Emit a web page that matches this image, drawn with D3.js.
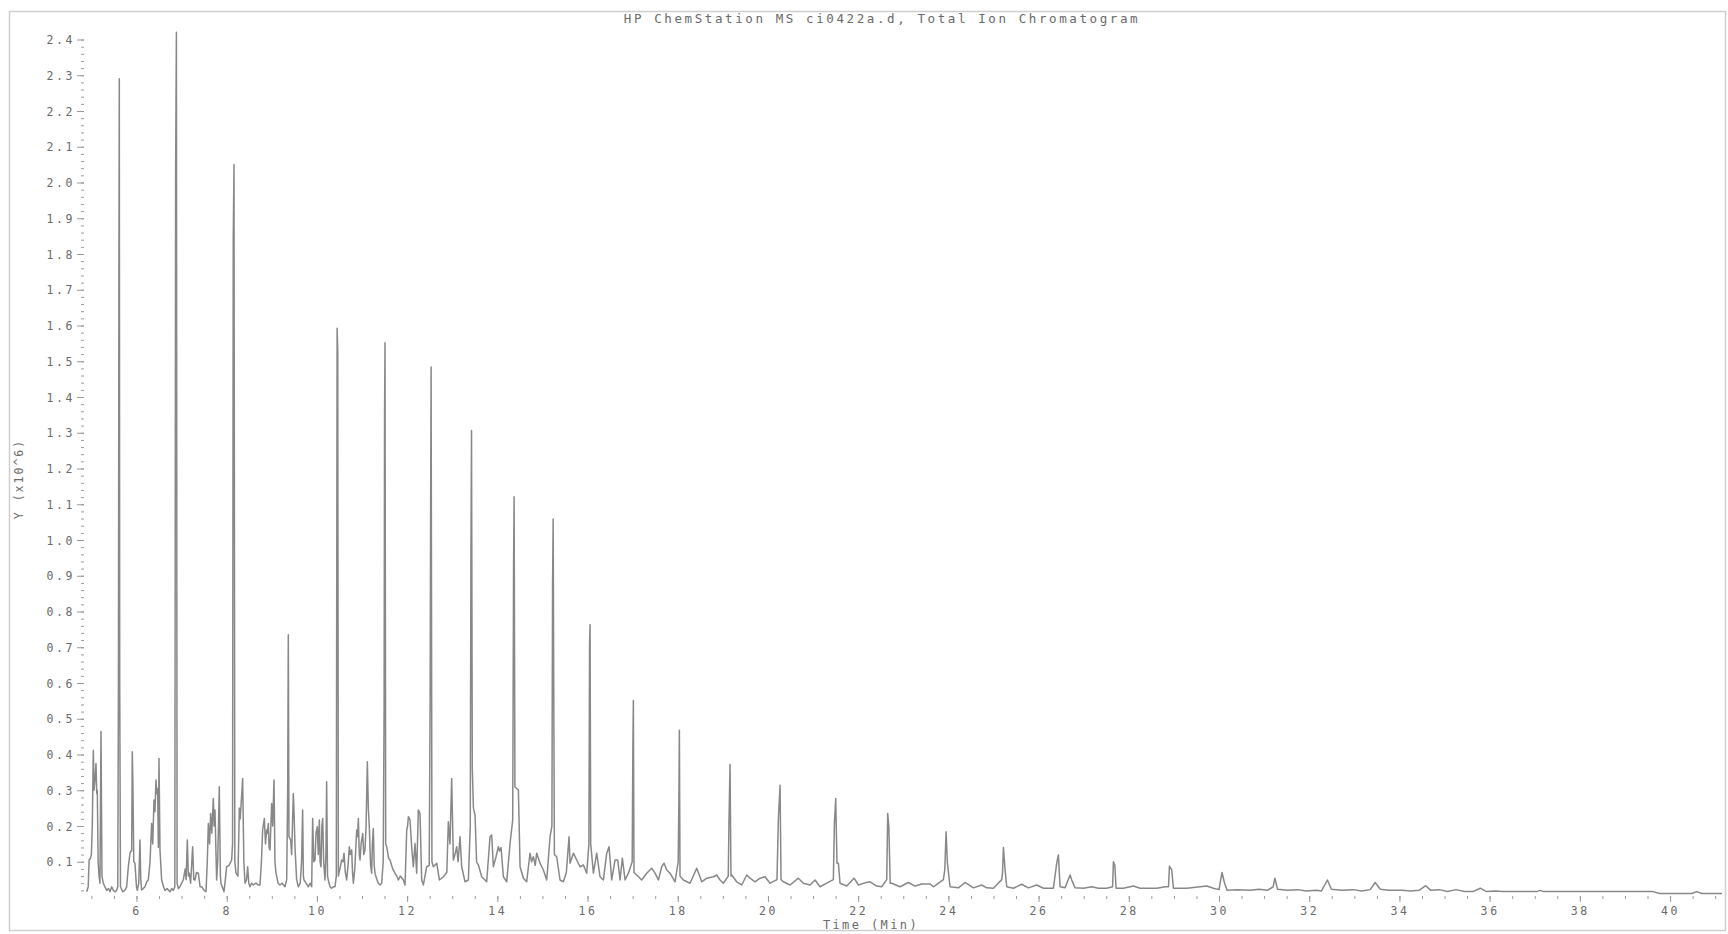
<!DOCTYPE html>
<html>
<head>
<meta charset="utf-8">
<script src="https://cdn.jsdelivr.net/npm/d3@7"></script>
<style>
  html, body { margin: 0; padding: 0; background: #fff; }
  svg text { font-family: "DejaVu Sans Mono", monospace; fill: #6a6a6a; }
</style>
</head>
<body>
<svg id="chart" width="1728" height="934"></svg>
<script>
// trace: [time (min), abundance x10^6]
const traceEarly = [
  [4.895,0.016],[4.93,0.03],[4.95,0.105],[4.98,0.11],[5.0,0.12],[5.02,0.2],[5.043,0.412],[5.06,0.3],
  [5.08,0.33],[5.102,0.375],[5.12,0.29],[5.131,0.3],[5.15,0.1],[5.17,0.06],[5.19,0.04],[5.213,0.464],
  [5.235,0.06],[5.264,0.04],[5.3,0.03],[5.338,0.02],[5.38,0.025],[5.412,0.016],[5.45,0.03],[5.486,0.02],
  [5.53,0.016],[5.56,0.02],[5.585,0.03],[5.6,0.6],[5.61,1.74],[5.619,2.29],[5.628,0.6],[5.645,0.03],
  [5.693,0.016],[5.74,0.02],[5.782,0.03],[5.819,0.086],[5.856,0.124],[5.88,0.13],[5.893,0.13],[5.907,0.408],
  [5.92,0.32],[5.94,0.1],[5.966,0.096],[6.0,0.03],[6.018,0.02],[6.05,0.04],[6.077,0.161],[6.095,0.05],
  [6.114,0.021],[6.15,0.025],[6.188,0.03],[6.23,0.045],[6.262,0.049],[6.3,0.1],[6.336,0.207],[6.36,0.15],
  [6.388,0.273],[6.41,0.24],[6.432,0.329],[6.45,0.29],[6.469,0.305],[6.485,0.14],[6.499,0.389],[6.521,0.133],
  [6.558,0.049],[6.6,0.03],[6.632,0.02],[6.68,0.025],[6.743,0.016],[6.78,0.025],[6.816,0.02],[6.85,0.03],
  [6.868,2.04],[6.885,2.42],[6.9,0.04],[6.93,0.025],[6.964,0.03],[7.0,0.04],[7.038,0.049],[7.08,0.08],
  [7.1,0.05],[7.127,0.161],[7.15,0.06],[7.171,0.068],[7.2,0.04],[7.245,0.142],[7.27,0.05],[7.297,0.049],
  [7.33,0.07],[7.371,0.068],[7.41,0.03],[7.445,0.03],[7.5,0.02],[7.541,0.016],[7.57,0.1],[7.593,0.207],
  [7.62,0.15],[7.644,0.235],[7.67,0.18],[7.703,0.277],[7.72,0.2],[7.74,0.245],[7.777,0.049],[7.8,0.1],
  [7.836,0.31],[7.86,0.06],[7.873,0.04],[7.94,0.016],[7.97,0.05],[7.999,0.086],[8.05,0.09],[8.11,0.105],
  [8.13,0.15],[8.145,1.84],[8.162,2.05],[8.18,0.1],[8.206,0.068],[8.25,0.06],[8.28,0.25],[8.3,0.22],
  [8.354,0.333],[8.38,0.1],[8.406,0.04],[8.44,0.05],[8.465,0.086],[8.49,0.04],[8.516,0.03],[8.55,0.04],
  [8.59,0.035],[8.65,0.04],[8.7,0.035],[8.738,0.035],[8.77,0.1],[8.797,0.189],[8.834,0.221],[8.86,0.15],
  [8.886,0.189],[8.9,0.18],[8.923,0.207],[8.94,0.14],[8.96,0.133],[8.997,0.263],[9.02,0.2],[9.049,0.329],
  [9.07,0.1],[9.093,0.068],[9.14,0.04],[9.182,0.035],[9.23,0.04],[9.292,0.03],[9.33,0.05],[9.352,0.3],
  [9.366,0.735],[9.38,0.17],[9.418,0.161],[9.44,0.12],[9.477,0.291],[9.49,0.25],[9.514,0.142],[9.55,0.05],
  [9.588,0.03],[9.63,0.04],[9.66,0.1],[9.684,0.245],[9.7,0.06],[9.714,0.049],[9.76,0.04],[9.81,0.03],
  [9.85,0.04],[9.884,0.03],[9.906,0.221],[9.93,0.1],[9.958,0.105],[9.98,0.18],[10.009,0.198],[10.03,0.12],
  [10.054,0.217],[10.07,0.1],[10.091,0.086],[10.11,0.2],[10.128,0.221],[10.15,0.1],[10.179,0.049],[10.2,0.12],
  [10.216,0.324],[10.235,0.06],[10.253,0.049],[10.29,0.03],[10.327,0.026],[10.36,0.03],[10.401,0.03],[10.43,0.06],
  [10.448,1.592],[10.462,1.53],[10.475,0.06],[10.51,0.08],[10.549,0.105],[10.58,0.1],[10.601,0.124],[10.63,0.07],
  [10.66,0.049],[10.69,0.09],[10.719,0.142],[10.74,0.12],[10.771,0.133],[10.79,0.07],[10.808,0.04],[10.84,0.08],
  [10.882,0.189],[10.9,0.17],[10.919,0.221],[10.94,0.12],[10.956,0.105],[10.98,0.15],[11.015,0.179],[11.04,0.12],
  [11.066,0.133],[11.09,0.2],[11.118,0.38],[11.14,0.25],[11.162,0.198],[11.19,0.09],[11.214,0.068],[11.23,0.15],
  [11.251,0.193],[11.27,0.09],[11.288,0.068],[11.33,0.05],[11.362,0.04],[11.4,0.035],[11.436,0.04],[11.47,0.1],
  [11.49,0.53],[11.5,1.35],[11.51,1.552],[11.525,0.15],[11.547,0.142],[11.59,0.11],[11.621,0.105],[11.68,0.08],
  [11.731,0.068],[11.77,0.06],[11.805,0.049]
];

const traceMid = [
  [11.85,0.06],[11.917,0.049],[11.954,0.035],[11.991,0.189],[12.01,0.2],[12.028,0.226],[12.064,0.217],[12.101,0.142],
  [12.138,0.086],[12.175,0.151],[12.212,0.068],[12.249,0.245],[12.286,0.235],[12.323,0.049],[12.36,0.035],[12.434,0.086],
  [12.49,0.09],[12.51,0.55],[12.522,1.12],[12.532,1.484],[12.55,0.1],[12.582,0.086],[12.656,0.096],[12.715,0.049],
  [12.804,0.058],[12.88,0.07],[12.914,0.212],[12.95,0.15],[12.988,0.333],[13.025,0.105],[13.06,0.12],[13.099,0.142],
  [13.13,0.1],[13.173,0.17],[13.21,0.086],[13.284,0.044],[13.358,0.049],[13.4,0.2],[13.415,0.97],[13.428,1.306],
  [13.445,0.36],[13.47,0.25],[13.506,0.23],[13.54,0.1],[13.58,0.091],[13.654,0.058],[13.764,0.044],[13.838,0.17],
  [13.875,0.175],[13.912,0.086],[13.971,0.114],[14.023,0.142],[14.05,0.13],[14.082,0.14],[14.134,0.058],[14.208,0.044],
  [14.282,0.151],[14.341,0.217],[14.36,0.93],[14.372,1.121],[14.39,0.31],[14.43,0.305],[14.467,0.301],[14.504,0.086],
  [14.578,0.054],[14.651,0.044],[14.725,0.124],[14.76,0.1],[14.799,0.114],[14.84,0.09],[14.873,0.124],[14.947,0.096],
  [15.021,0.077],[15.095,0.049],[15.169,0.17],[15.21,0.2],[15.225,0.88],[15.238,1.059],[15.25,0.61],[15.265,0.12],
  [15.316,0.114],[15.39,0.049],[15.464,0.044],[15.53,0.07],[15.59,0.17],[15.612,0.096],[15.686,0.124],[15.76,0.105],
  [15.834,0.086],[15.908,0.091],[15.982,0.068],[16.03,0.15],[16.045,0.71],[16.056,0.763],[16.07,0.15],[16.13,0.068],
  [16.203,0.124],[16.277,0.058],[16.351,0.049],[16.425,0.124],[16.477,0.142],[16.536,0.049],[16.61,0.105],[16.669,0.105],
  [16.721,0.049],[16.772,0.11],[16.832,0.049],[16.906,0.068],[16.99,0.1],[17.005,0.42],[17.016,0.551],[17.03,0.07],
  [17.09,0.063],[17.201,0.049],[17.312,0.068],[17.423,0.082],[17.497,0.068],[17.571,0.049],[17.645,0.086],[17.696,0.096],
  [17.756,0.077],[17.829,0.068],[17.94,0.044],[18.01,0.1],[18.025,0.27],[18.036,0.468],[18.05,0.06],[18.125,0.049],
  [18.273,0.04],[18.421,0.082],[18.532,0.044],[18.642,0.054]
];

const traceLate = [
  [18.79,0.058],[18.864,0.063],[18.937,0.049],[19.011,0.04],[19.12,0.06],[19.135,0.207],[19.159,0.372],[19.18,0.06],
  [19.196,0.063],[19.307,0.044],[19.418,0.035],[19.529,0.063],[19.603,0.054],[19.713,0.044],[19.824,0.054],[19.935,0.058],
  [20.046,0.04],[20.2,0.05],[20.231,0.221],[20.268,0.314],[20.29,0.05],[20.342,0.044],[20.49,0.035],[20.674,0.054],
  [20.785,0.04],[20.933,0.035],[21.044,0.049],[21.155,0.03],[21.303,0.04],[21.45,0.05],[21.473,0.207],[21.502,0.277],
  [21.53,0.096],[21.561,0.096],[21.598,0.04],[21.746,0.032],[21.909,0.054],[22.005,0.035],[22.153,0.041],[22.263,0.044],
  [22.411,0.032],[22.522,0.03],[22.633,0.05],[22.655,0.235],[22.68,0.198],[22.71,0.04],[22.744,0.04],[22.929,0.03],
  [23.113,0.042],[23.261,0.032],[23.409,0.038],[23.594,0.038],[23.668,0.03],[23.889,0.05],[23.92,0.077],[23.949,0.184],
  [23.978,0.096],[24.037,0.03],[24.222,0.027],[24.37,0.042],[24.555,0.027],[24.739,0.035],[24.85,0.027],[24.998,0.026],
  [25.183,0.05],[25.2,0.068],[25.22,0.14],[25.257,0.077],[25.294,0.03],[25.441,0.026],[25.626,0.037],[25.774,0.027],
  [25.959,0.035],[26.107,0.026],[26.328,0.026],[26.402,0.096],[26.439,0.119],[26.476,0.03],[26.587,0.027],[26.698,0.063],
  [26.735,0.049],[26.809,0.027],[26.994,0.026],[27.178,0.03],[27.326,0.026],[27.511,0.026],[27.64,0.03],[27.659,0.1],
  [27.69,0.09],[27.718,0.026],[27.881,0.026],[28.102,0.032],[28.25,0.026],[28.62,0.026],[28.805,0.03],[28.88,0.03],
  [28.901,0.088],[28.952,0.077],[28.989,0.026],[29.285,0.026],[29.728,0.032],[29.876,0.026],[30.0,0.022],[30.066,0.07],
  [30.119,0.042],[30.178,0.02],[30.402,0.022],[30.701,0.02],[30.887,0.023],[31.074,0.02],[31.2,0.03],[31.238,0.054],
  [31.298,0.023],[31.522,0.02],[31.746,0.022],[31.933,0.018],[32.156,0.02],[32.269,0.018],[32.343,0.035],[32.403,0.049],
  [32.492,0.023],[32.717,0.02],[32.978,0.022],[33.164,0.018],[33.351,0.022],[33.463,0.042],[33.575,0.023],[33.762,0.02],
  [34.06,0.02],[34.247,0.018],[34.434,0.02],[34.583,0.033],[34.695,0.02],[34.882,0.022],[35.068,0.0165],[35.255,0.022],
  [35.441,0.0165],[35.628,0.0165],[35.792,0.026],[35.927,0.0165],[36.113,0.018],[36.3,0.0165],[37.046,0.0165],[37.121,0.02],
  [37.196,0.0165],[39.435,0.0165],[39.622,0.0165],[39.771,0.011],[40.481,0.011],[40.593,0.0165],[40.705,0.011],[41.152,0.011]
];

const xLabels = [6, 8, 10, 12, 14, 16, 18, 20, 22, 24, 26, 28, 30, 32, 34, 36, 38, 40];
const yLabels = [0.1, 0.2, 0.3, 0.4, 0.5, 0.6, 0.7, 0.8, 0.9, 1.0, 1.1, 1.2,
                 1.3, 1.4, 1.5, 1.6, 1.7, 1.8, 1.9, 2.0, 2.1, 2.2, 2.3, 2.4];
const title = "HP ChemStation MS ci0422a.d, Total Ion Chromatogram";

const svg = d3.select("#chart");

// outer frame
svg.append("rect")
    .attr("x", 9.5).attr("y", 11.5)
    .attr("width", 1716).attr("height", 919)
    .attr("fill", "none")
    .attr("stroke", "#cfcfcf")
    .attr("stroke-width", 1.5);

// scales: 6 min sits at x=136.5, 45.1 px per minute
let x = d3.scaleLinear().domain([4.792, 41.24]).range([82, 1726]);
let y = d3.scaleLinear().domain([0, 2.4]).range([897.5, 39.5]);

// minor tick values (every 0.5 min / 0.02 units)
const xMinor = d3.range(5, 41.01, 0.5);
const yMinor = d3.range(1, 121).map(i => i / 50);

// y axis: labelled major ticks + dotted minor ticks, no spine
const yAxisG = svg.append("g").attr("transform", "translate(84,0)");
yAxisG.call(d3.axisLeft(y).tickValues(yMinor).tickSize(3).tickFormat(""));
yAxisG.append("g")
    .call(d3.axisLeft(y).tickValues(yLabels).tickSize(7).tickPadding(2).tickFormat(d3.format(".1f")));
yAxisG.selectAll(".domain").remove();
yAxisG.selectAll("line").attr("stroke", "#9a9a9a");
yAxisG.selectAll("text")
    .style("font-size", "11.5px")
    .style("letter-spacing", "2.6px")
    .attr("dy", "0.35em");

// x axis
const xAxisG = svg.append("g").attr("transform", "translate(0,896)");
xAxisG.call(d3.axisBottom(x).tickValues(xMinor).tickSize(3).tickFormat(""));
xAxisG.append("g")
    .call(d3.axisBottom(x).tickValues(xLabels).tickSize(6).tickPadding(5).tickFormat(d3.format("d")));
xAxisG.selectAll(".domain").remove();
xAxisG.selectAll("line").attr("stroke", "#9a9a9a");
xAxisG.selectAll("text")
    .style("font-size", "11.5px")
    .style("letter-spacing", "2.6px");

// the chromatogram itself
const trace = [...traceEarly, ...traceMid, ...traceLate];
let line = d3.line()
    .x(d => x(d[0]))
    .y(d => y(d[1]));

svg.append("path")
    .datum(trace)
    .attr("d", line)
    .attr("fill", "none")
    .attr("stroke", "#888")
    .attr("stroke-width", 1.5)
    .attr("stroke-linejoin", "round");

// titles
svg.append("text")
    .attr("x", 882).attr("y", 23)
    .attr("text-anchor", "middle")
    .style("font-size", "12.5px")
    .style("letter-spacing", "2.6px")
    .text(title);

svg.append("text")
    .attr("x", 871).attr("y", 929)
    .attr("text-anchor", "middle")
    .style("font-size", "12px")
    .style("letter-spacing", "2.4px")
    .text("Time (Min)");

svg.append("text")
    .attr("transform", "translate(23,479) rotate(-90)")
    .attr("text-anchor", "middle")
    .style("font-size", "11.5px")
    .style("letter-spacing", "2px")
    .text("Y (x10^6)");
</script>
</body>
</html>
